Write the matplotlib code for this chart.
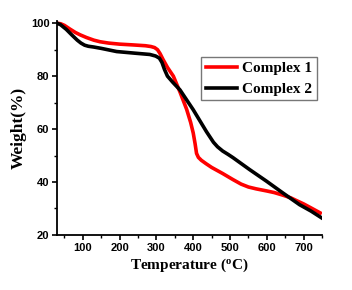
import matplotlib
matplotlib.use('Agg')
import matplotlib.pyplot as plt
from matplotlib.ticker import MultipleLocator

# TGA curves
temp1 = [30, 40, 50, 65, 80, 93, 110, 130, 147, 170, 200, 237, 270, 285, 295, 303, 310, 318, 330, 346, 364, 382, 393, 400, 405, 409, 414, 422, 435, 450, 480, 508, 530, 550, 571, 600, 620, 644, 665, 680, 700, 720, 745]
weight1 = [100, 99.8, 99.2, 97.8, 96.5, 95.6, 94.6, 93.6, 93.0, 92.5, 92.1, 91.8, 91.5, 91.2, 90.8, 90.0, 88.5, 86.3, 83.3, 80.0, 74.0, 67.5, 62.5, 58.5, 54.5, 50.8, 49.3, 48.2, 46.9, 45.5, 43.2, 40.9, 39.2, 38.1, 37.4, 36.6, 36.0, 35.0, 34.0, 33.0, 31.7, 30.2, 28.3]
temp2 = [30, 39, 55, 70, 85, 95, 105, 115, 130, 150, 192, 240, 282, 298, 308, 315, 322, 330, 345, 364, 400, 436, 455, 466, 480, 495, 508, 553, 599, 644, 689, 720, 748]
weight2 = [100, 99.5, 97.7, 95.6, 93.6, 92.5, 91.7, 91.3, 91.0, 90.5, 89.3, 88.7, 88.2, 87.6, 86.8, 85.2, 82.5, 80.0, 77.6, 74.8, 67.3, 59.0, 55.0, 53.3, 51.7, 50.4, 49.2, 44.7, 40.3, 35.8, 31.4, 29.0, 26.5]

fig = plt.figure(figsize=(3.52, 2.90), dpi=100)
ax = fig.add_axes([0.162, 0.19, 0.753, 0.739])

ax.plot(temp1, weight1, color='#ff0000', lw=2.6, label='Complex 1', solid_joinstyle='round')
ax.plot(temp2, weight2, color='#000000', lw=2.6, label='Complex 2', solid_joinstyle='round')

ax.set_xlim(30, 750)
ax.set_ylim(20, 101)
ax.xaxis.set_major_locator(MultipleLocator(100))
ax.xaxis.set_minor_locator(MultipleLocator(50))
ax.yaxis.set_major_locator(MultipleLocator(20))
ax.yaxis.set_minor_locator(MultipleLocator(10))

for s in ['top', 'right']:
    ax.spines[s].set_visible(False)
for s in ['left', 'bottom']:
    ax.spines[s].set_linewidth(1.3)

ax.tick_params(which='major', direction='out', length=3.5, width=1.2, pad=2)
ax.tick_params(which='minor', direction='out', length=2, width=1.0)
for lab in ax.get_xticklabels() + ax.get_yticklabels():
    lab.set_fontfamily('Liberation Sans')
    lab.set_fontweight('bold')
    lab.set_fontsize(8)

ax.set_xlabel(r'Temperature ($\mathregular{^o}$C)', fontfamily='Liberation Serif',
              fontweight='bold', fontsize=11, labelpad=3)
ax.set_ylabel('Weight(%)', fontfamily='Liberation Serif', fontweight='bold',
              fontsize=12.5, labelpad=3)

leg = ax.legend(loc='upper left', bbox_to_anchor=(0.545, 0.83),
                prop={'family': 'Liberation Serif', 'weight': 'bold', 'size': 11},
                frameon=True, fancybox=False, handlelength=2.0, handletextpad=0.35,
                borderpad=0.3, labelspacing=0.45, borderaxespad=0)
leg.get_frame().set_edgecolor('#555555')
leg.get_frame().set_linewidth(1.0)

fig.savefig('out.png', dpi=100)
